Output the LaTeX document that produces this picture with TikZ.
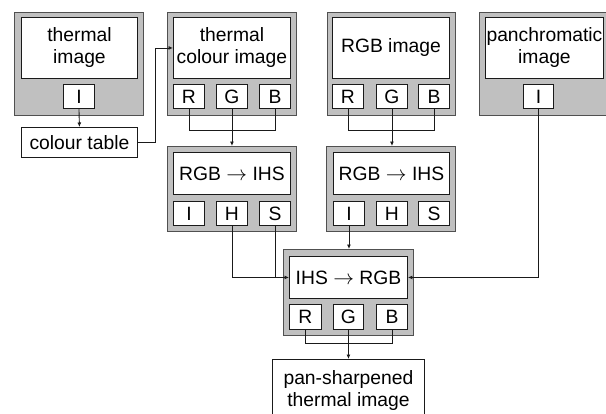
\documentclass[tikz,border=0pt]{standalone}
\usepackage{fontspec}
\setmainfont{Liberation Sans}
\usetikzlibrary{arrows.meta}
\definecolor{panelgray}{HTML}{C0C0C0}
\definecolor{edge}{HTML}{505050}
\definecolor{ink}{HTML}{1A1A1A}
\newcommand\toarrow{$\rightarrow$}
\begin{document}
\begin{tikzpicture}[x=1pt,y=-1pt,
  panel/.style={draw=edge, fill=panelgray, line width=1.4pt, inner sep=0pt,
    anchor=north west},
  wbox/.style={draw=ink, fill=white, line width=0.9pt, inner sep=0pt,
    anchor=north west, align=center, font=\fontsize{19.3}{22}\selectfont},
  link/.style={draw=ink, line width=0.9pt},
  arr/.style={link, -{Latex[length=4.5pt,width=4pt]}}]
\clip (0,0) rectangle (606,413);
\fill[white] (0,0) rectangle (606,413);

% source panels
\node[panel, minimum width=129pt, minimum height=103pt] (p1) at (14,12) {};
\node[wbox, minimum width=116pt, minimum height=61pt] (t1) at (21,17) {thermal\\image};
\node[wbox, minimum width=31pt, minimum height=24pt] (i1) at (63,84) {I};
\node[wbox, minimum width=116pt, minimum height=30pt] (ct) at (21,127) {colour table};

\node[panel, minimum width=129pt, minimum height=103pt] (p2) at (167,12) {};
\node[wbox, minimum width=117pt, minimum height=61pt] (t2) at (173,17) {thermal\\colour image};
\node[wbox, minimum width=31pt, minimum height=24pt] (r2) at (173,84) {R};
\node[wbox, minimum width=31pt, minimum height=24pt] (g2) at (216,84) {G};
\node[wbox, minimum width=31pt, minimum height=24pt] (b2) at (259,84) {B};

\node[panel, minimum width=128pt, minimum height=103pt] (p3) at (327,12) {};
\node[wbox, minimum width=117pt, minimum height=61pt] (t3) at (332,17) {RGB image};
\node[wbox, minimum width=31pt, minimum height=24pt] (r3) at (332,84) {R};
\node[wbox, minimum width=31pt, minimum height=24pt] (g3) at (376,84) {G};
\node[wbox, minimum width=31pt, minimum height=24pt] (b3) at (418,84) {B};

\node[panel, minimum width=135pt, minimum height=103pt] (p4) at (479,12) {};
\node[wbox, minimum width=118pt, minimum height=61pt] (t4) at (485,17) {panchromatic\\image};
\node[wbox, minimum width=30pt, minimum height=24pt] (i4) at (523,84) {I};

% colour space transforms
\node[panel, minimum width=129pt, minimum height=85pt] (q1) at (167,146) {};
\node[wbox, minimum width=117pt, minimum height=42pt] (u1) at (173,152) {RGB \toarrow{} IHS};
\node[wbox, minimum width=31pt, minimum height=24pt] (iq1) at (173,201) {I};
\node[wbox, minimum width=31pt, minimum height=24pt] (hq1) at (216,201) {H};
\node[wbox, minimum width=31pt, minimum height=24pt] (sq1) at (259,201) {S};

\node[panel, minimum width=129pt, minimum height=85pt] (q2) at (326,146) {};
\node[wbox, minimum width=116pt, minimum height=42pt] (u2) at (333,152) {RGB \toarrow{} IHS};
\node[wbox, minimum width=31pt, minimum height=24pt] (iq2) at (333,201) {I};
\node[wbox, minimum width=31pt, minimum height=24pt] (hq2) at (376,201) {H};
\node[wbox, minimum width=31pt, minimum height=24pt] (sq2) at (418,201) {S};

\node[panel, minimum width=130pt, minimum height=86pt] (q3) at (283,249) {};
\node[wbox, minimum width=118pt, minimum height=42pt] (u3) at (289,256) {IHS \toarrow{} RGB};
\node[wbox, minimum width=32pt, minimum height=25pt] (ro) at (289,304) {R};
\node[wbox, minimum width=30pt, minimum height=25pt] (go) at (333,304) {G};
\node[wbox, minimum width=31pt, minimum height=25pt] (bo) at (376,304) {B};

\node[wbox, minimum width=152pt, minimum height=62pt] (out) at (272,359) {pan-sharpened\\thermal image};

% connectors
\draw[arr] (i1.south) -- (ct.north);
\draw[arr] (ct.east) -- ++(18,0) |- (t2.west);

\draw[link] (r2.south) -- (r2.south |- 0,130) -| (b2.south);
\draw[arr] (g2.south) -- (g2.south |- q1.north);

\draw[link] (r3.south) -- (r3.south |- 0,130) -| (b3.south);
\draw[arr] (g3.south) -- (g3.south |- q2.north);

\draw[arr] (hq1.south) |- (u3.west);
\draw[link] (sq1.south) -- (sq1.south |- u3.west);
\draw[arr] (iq2.south) -- (iq2.south |- q3.north);
\draw[arr] (i4.south) |- (u3.east);

\draw[link] (ro.south) -- (ro.south |- 0,343) -| (bo.south);
\draw[arr] (go.south) -- (go.south |- out.north);
\end{tikzpicture}
\end{document}
